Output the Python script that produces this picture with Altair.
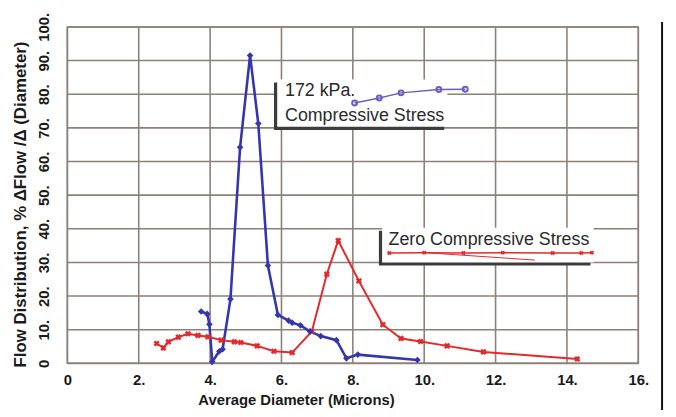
import altair as alt
import pandas as pd

# ---- data ----
blue_x = [3.75, 3.92, 3.98, 4.06, 4.26, 4.35, 4.57, 4.84, 5.12, 5.35, 5.62, 5.90,
          6.20, 6.30, 6.53, 6.80, 7.10, 7.54, 7.82, 8.14, 9.81]
blue_y = [15.4, 14.7, 11.6, 0.5, 3.6, 4.2, 19.1, 64.2, 91.5, 71.3, 29.1, 14.4,
          12.7, 12.1, 11.3, 9.5, 8.1, 6.9, 1.5, 2.6, 1.0]

red_x = [2.50, 2.69, 2.83, 3.11, 3.38, 3.66, 3.94, 4.31, 4.68, 4.86, 5.32, 5.79,
         6.30, 6.85, 7.27, 7.59, 8.17, 8.84, 9.35, 9.90, 10.64, 11.66, 14.29]
red_y = [5.9, 4.6, 6.4, 7.8, 8.8, 8.3, 7.9, 6.9, 6.4, 6.2, 5.2, 3.6,
         3.2, 9.5, 26.5, 36.5, 24.5, 11.5, 7.4, 6.5, 5.2, 3.4, 1.3]

x_ticks = [0, 2, 4, 6, 8, 10, 12, 14, 16]
y_ticks = [0, 10, 20, 30, 40, 50, 60, 70, 80, 90, 100]

# annotation boxes (data coordinates)
box_x1 = [5.88, 8.82]
box_x2 = [10.65, 14.75]
box_y1 = [70.3, 30.0]
box_y2 = [84.4, 40.3]

ann_text = ["172 kPa.", "Compressive Stress", "Zero Compressive Stress"]
ann_x = [6.1, 6.1, 9.0]
ann_y = [80.9, 73.5, 36.8]

# legend sample lines drawn inside the boxes
leg_blue_x = [8.05, 8.74, 9.35, 10.41, 11.15]
leg_blue_y = [77.4, 78.9, 80.4, 81.4, 81.5]
leg_red_x = [9.02, 10.0, 11.1, 12.2, 13.6, 14.4, 14.7]
leg_red_y = [32.8, 32.9, 32.8, 32.9, 32.8, 32.8, 32.9]
leg_red2_x = [9.9, 13.1]
leg_red2_y = [33.0, 30.7]

BLUE = "#3535ae"
RED = "#e6282b"
GRID = "#8c8179"
FONT = "Liberation Sans"

blue = pd.DataFrame({"x": blue_x, "y": blue_y, "i": range(len(blue_x))})
red = pd.DataFrame({"x": red_x, "y": red_y, "i": range(len(red_x))})
boxes = pd.DataFrame({"x": box_x1, "x2": box_x2, "y": box_y1, "y2": box_y2})
shadow = pd.DataFrame({"x": [v - 0.09 for v in box_x1], "x2": [v - 0.09 for v in box_x2],
                       "y": [v - 0.9 for v in box_y1], "y2": [v - 0.9 for v in box_y2]})
texts = pd.DataFrame({"x": ann_x, "y": ann_y, "t": ann_text})
lb = pd.DataFrame({"x": leg_blue_x, "y": leg_blue_y})
lr = pd.DataFrame({"x": leg_red_x, "y": leg_red_y})
lr2 = pd.DataFrame({"x": leg_red2_x, "y": leg_red2_y})
gx = pd.DataFrame({"x": x_ticks, "y": [0] * len(x_ticks), "y2": [100] * len(x_ticks)})
gy = pd.DataFrame({"y": y_ticks, "x": [0] * len(y_ticks), "x2": [16] * len(y_ticks)})

xs = alt.Scale(domain=[0, 16], nice=False)
ys = alt.Scale(domain=[0, 100], nice=False)

x_axis = alt.Axis(values=x_ticks, labelExpr="datum.value == 0 ? '0' : datum.value + '.'",
                  grid=False, domain=False, ticks=False,
                  labelFont=FONT, labelFontWeight="bold", labelFontSize=15, labelColor="#1a1a1a",
                  labelFlush=False, labelOverlap=False, labelBaseline="middle", labelPadding=16,
                  title="Average Diameter (Microns)", titleFont=FONT, titleFontWeight="bold",
                  titleFontSize=15, titleColor="#1a1a1a", titleX=231, titleY=37,
                  titleBaseline="middle", titleAlign="center")
y_axis = alt.Axis(values=y_ticks, labelExpr="datum.value == 0 ? '0' : datum.value + '.'",
                  grid=False, domain=False, ticks=False,
                  labelFont=FONT, labelFontWeight="bold", labelFontSize=15, labelColor="#1a1a1a",
                  labelAngle=270, labelAlign="center", labelBaseline="middle", labelPadding=24,
                  labelFlush=False, labelOverlap=False,
                  title="Flow Distribution, % \u0394Flow /\u0394 (Diameter)", titleFont=FONT,
                  titleFontWeight="bold", titleFontSize=17, titleColor="#1a1a1a",
                  titleAngle=270, titleX=-47, titleY=179, titleBaseline="middle", titleAlign="center")

X = alt.X("x:Q", scale=xs, axis=x_axis)
Y = alt.Y("y:Q", scale=ys, axis=y_axis)

grid_x = alt.Chart(gx).mark_rule(color=GRID, strokeWidth=1.6, opacity=1).encode(
    x=X, y=Y, y2="y2:Q")
grid_y = alt.Chart(gy).mark_rule(color=GRID, strokeWidth=1.6, opacity=1).encode(
    y=Y, x=X, x2="x2:Q")

shadow_l = alt.Chart(shadow).mark_rect(color="#3c3c3c").encode(x=X, x2="x2:Q", y=Y, y2="y2:Q")
box_l = alt.Chart(boxes).mark_rect(color="white").encode(x=X, x2="x2:Q", y=Y, y2="y2:Q")

blue_line = alt.Chart(blue).mark_line(color=BLUE, strokeWidth=2.6).encode(x=X, y=Y, order="i:Q")
blue_pts = alt.Chart(blue).mark_point(shape="diamond", filled=True, color=BLUE, size=45,
                                      opacity=1).encode(x=X, y=Y)
red_line = alt.Chart(red).mark_line(color=RED, strokeWidth=2).encode(x=X, y=Y, order="i:Q")
red_pts = alt.Chart(red).mark_point(shape="cross", angle=45, filled=True, color=RED, size=40,
                                    opacity=1).encode(x=X, y=Y)

txt = alt.Chart(texts).mark_text(font=FONT, fontSize=18, color="#2a2a2a", align="left",
                                 baseline="middle").encode(x=X, y=Y, text="t:N")

lb_line = alt.Chart(lb).mark_line(color="#6a5fc0", strokeWidth=1.5).encode(x=X, y=Y)
lb_pts = alt.Chart(lb).mark_point(shape="circle", color="#6a5fc0", size=25, filled=False,
                                  opacity=1).encode(x=X, y=Y)
lr_line = alt.Chart(lr).mark_line(color=RED, strokeWidth=1.5).encode(x=X, y=Y)
lr_pts = alt.Chart(lr).mark_point(shape="cross", angle=45, filled=True, color=RED, size=20,
                                  opacity=1).encode(x=X, y=Y)
lr2_line = alt.Chart(lr2).mark_line(color=RED, strokeWidth=1).encode(x=X, y=Y)

edge = alt.Chart(pd.DataFrame({"a": [0]})).mark_rule(color="#111111", strokeWidth=2).encode(
    x=alt.value(601), y=alt.value(-5), y2=alt.value(400))

chart = alt.layer(
    grid_x, grid_y, blue_line, shadow_l, box_l, red_line, red_pts, blue_pts, txt,
    lb_line, lb_pts, lr_line, lr2_line, lr_pts, edge
).properties(
    width=577, height=340,
    autosize=alt.AutoSizeParams(type="none"),
    padding={"left": 60, "top": 17, "right": 30, "bottom": 45},
    background="white",
).configure_view(stroke="#8a837d", strokeWidth=1.5)

chart.save("out.html", embed_options={"renderer": "svg", "actions": False})
